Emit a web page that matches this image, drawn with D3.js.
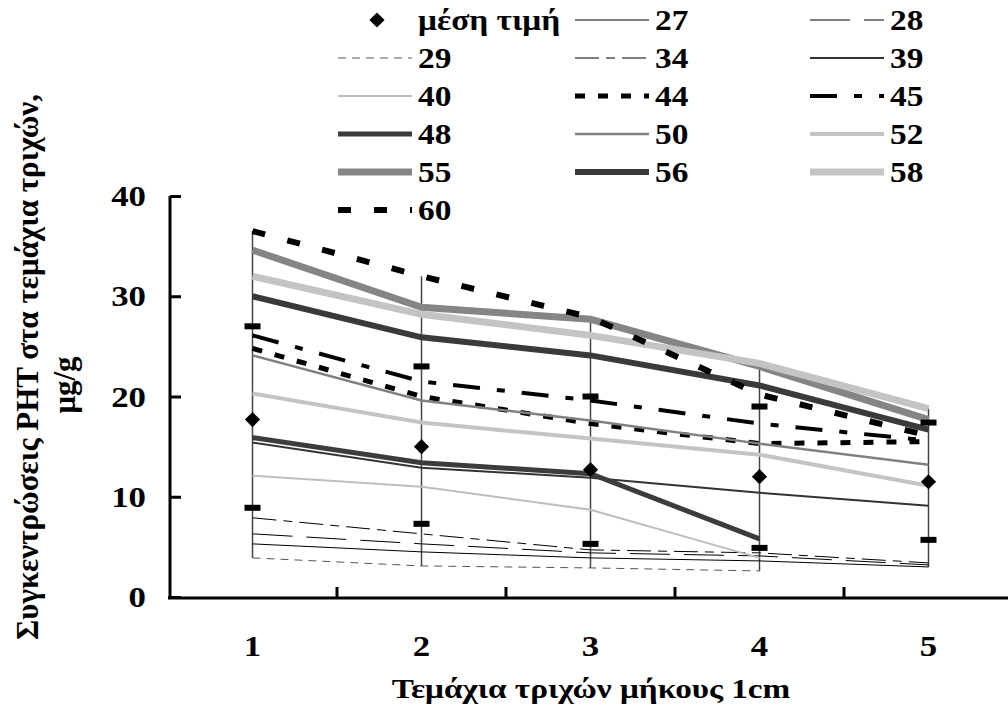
<!DOCTYPE html>
<html>
<head>
<meta charset="utf-8">
<script src="https://cdn.jsdelivr.net/npm/d3@7"></script>
<style>
  body { margin: 0; background: #fff; }
  svg { font-family: "Liberation Serif", "Times New Roman", serif; font-weight: bold; }
</style>
</head>
<body>
<svg id="chart" width="1008" height="707"></svg>
<script>
// Τεμάχια τριχών (1cm)
const categories = [1, 2, 3, 4, 5];
const yTicks = [0, 10, 20, 30, 40];

// μέση τιμή και μέση τιμή ± SD
const meanValues = [17.7, 15.0, 12.7, 12.0, 11.5];
const upperSD = [27.0, 23.0, 20.0, 19.0, 17.4];
const lowerSD = [8.9, 7.3, 5.3, 4.9, 5.7];

// συγκεντρώσεις ανά δείγμα (μg/g)
const s27 = [5.3, 4.5, 3.9, 3.6, 3.0];
const s28 = [6.3, 5.3, 4.4, 4.1, 3.2];
const s29 = [3.9, 3.1, 2.9, 2.6, null];
const s34 = [7.9, 6.3, 4.7, 4.4, 3.4];
const s39 = [15.4, 12.9, 11.9, 10.4, 9.1];
const s40 = [12.1, 11.0, 8.7, 3.9, null];
const s44 = [24.8, 20.0, 17.3, 15.3, 15.5];
const s45 = [26.1, 21.5, 19.6, 17.3, 15.6];
const s48 = [15.9, 13.4, 12.3, 5.8, null];
const s50 = [24.1, 19.6, 17.6, 15.3, 13.2];
const s52 = [20.3, 17.4, 15.8, 14.2, 11.1];
const s55 = [34.6, 28.9, 27.7, 23.0, 17.7];
const s56 = [30.0, 25.9, 24.1, 21.1, 16.7];
const s58 = [32.0, 28.2, 26.1, 23.3, 18.8];
const s60 = [36.5, 32.0, 27.9, 20.2, 16.1];

const series = [
  { name: "27", values: s27, color: "#000", width: 1, dash: null },
  { name: "28", values: s28, color: "#000", width: 1, dash: "40,14" },
  { name: "29", values: s29, color: "#555", width: 1, dash: "8,6" },
  { name: "34", values: s34, color: "#000", width: 1, dash: "24,7,9,7" },
  { name: "39", values: s39, color: "#333", width: 2, dash: null },
  { name: "40", values: s40, color: "#bdbdbd", width: 2, dash: null },
  { name: "44", values: s44, color: "#000", width: 5, dash: "10,13" },
  { name: "45", values: s45, color: "#000", width: 4, dash: "27,17,8,17" },
  { name: "48", values: s48, color: "#3c3c3c", width: 5, dash: null },
  { name: "50", values: s50, color: "#808080", width: 2.5, dash: null },
  { name: "52", values: s52, color: "#c4c4c4", width: 4, dash: null },
  { name: "55", values: s55, color: "#858585", width: 7, dash: null },
  { name: "56", values: s56, color: "#3a3a3a", width: 6, dash: null },
  { name: "58", values: s58, color: "#c4c4c4", width: 7, dash: null },
  { name: "60", values: s60, color: "#000", width: 6, dash: "13,23" },
];

const svg = d3.select("#chart");

// κείμενο με οριζόντια διάταση (όπως στο πρωτότυπο)
function label(g, px, py, str, size, anchor, k) {
  return g.append("text")
    .attr("transform", `translate(${px},${py}) scale(${k},1)`)
    .attr("text-anchor", anchor)
    .attr("font-size", size)
    .attr("fill", "#000")
    .text(str);
}

const x = d3.scaleBand().domain(categories).range([168, 1013]);
const y = d3.scaleLinear().domain([0, 40]).range([597, 196]);
const cx = (c) => x(c) + x.bandwidth() / 2;

// high-low γραμμές
const hiLo = categories.map((c, i) => {
  const vals = series.map((s) => s.values[i]).filter((v) => v != null);
  return { c, lo: d3.min(vals), hi: d3.max(vals) };
});
svg.append("g")
  .selectAll("line")
  .data(hiLo)
  .enter()
  .append("line")
  .attr("x1", (d) => cx(d.c))
  .attr("x2", (d) => cx(d.c))
  .attr("y1", (d) => y(d.lo))
  .attr("y2", (d) => y(d.hi))
  .attr("stroke", "#444")
  .attr("stroke-width", 1.5);

// γραμμές δειγμάτων
const line = d3
  .line()
  .defined((d) => d.v != null)
  .x((d) => cx(d.c))
  .y((d) => y(d.v));

series.forEach((s) => {
  svg.append("path")
    .datum(categories.map((c, i) => ({ c, v: s.values[i] })))
    .attr("fill", "none")
    .attr("stroke", s.color)
    .attr("stroke-width", s.width)
    .attr("stroke-dasharray", s.dash)
    .attr("d", line);
});

// ± SD
const sdMarks = categories.flatMap((c, i) => [
  { c, v: upperSD[i] },
  { c, v: lowerSD[i] },
]);
svg.append("g")
  .selectAll("rect")
  .data(sdMarks)
  .enter()
  .append("rect")
  .attr("x", (d) => cx(d.c) - 8)
  .attr("y", (d) => y(d.v) - 3)
  .attr("width", 16)
  .attr("height", 6)
  .attr("fill", "#000");

// μέση τιμή
const diamond = d3.symbol(d3.symbolSquare, 115);
svg.append("g")
  .selectAll("path")
  .data(categories.map((c, i) => ({ c, v: meanValues[i] })))
  .enter()
  .append("path")
  .attr("d", diamond)
  .attr("transform", (d) => `translate(${cx(d.c)},${y(d.v)}) rotate(45)`)
  .attr("fill", "#000");

// άξονας y
const yAxis = svg.append("g")
  .attr("transform", "translate(170,0)")
  .call(d3.axisLeft(y).tickValues(yTicks).tickSize(-11).tickFormat(""));
yAxis.select(".domain").attr("stroke-width", 3).attr("d", "M0,196V598");
yAxis.selectAll(".tick line").attr("stroke-width", 3);
const yLabels = svg.append("g");
yTicks.forEach((t) => label(yLabels, 146, y(t) + 10, t, 29, "end", 1.2));

// άξονας x
const xg = svg.append("g").attr("transform", "translate(0,598)");
xg.append("line")
  .attr("x1", 168).attr("x2", 1008)
  .attr("stroke", "#000").attr("stroke-width", 3);
xg.selectAll(".xtick")
  .data(categories.slice(1))
  .enter()
  .append("line")
  .attr("x1", (c) => x(c)).attr("x2", (c) => x(c))
  .attr("y1", 0).attr("y2", -11)
  .attr("stroke", "#000").attr("stroke-width", 3);
categories.forEach((c) => label(xg, cx(c), 58, c, 29, "middle", 1.2));

label(svg, 591, 698, "Τεμάχια τριχών μήκους 1cm", 27, "middle", 1.23);

svg.append("text")
  .attr("transform", "translate(38,367) rotate(-90)")
  .attr("text-anchor", "middle")
  .attr("font-size", 31)
  .text("Συγκεντρώσεις PHT στα τεμάχια τριχών,");
svg.append("text")
  .attr("transform", "translate(75,385) rotate(-90)")
  .attr("text-anchor", "middle")
  .attr("font-size", 31)
  .text("μg/g");

// υπόμνημα
const legendItems = [{ name: "μέση τιμή", mean: true }].concat(series);
const colX = [338, 575, 810];
const legend = svg.append("g");
legendItems.forEach((item, i) => {
  const col = i % 3;
  const row = Math.floor(i / 3);
  const gy = 20 + row * 38;
  const x0 = colX[col];
  if (item.mean) {
    legend.append("path")
      .attr("d", diamond)
      .attr("transform", `translate(${x0 + 39},${gy}) rotate(45)`)
      .attr("fill", "#000");
  } else {
    legend.append("line")
      .attr("x1", x0).attr("x2", x0 + 74)
      .attr("y1", gy).attr("y2", gy)
      .attr("stroke", item.color)
      .attr("stroke-width", item.width)
      .attr("stroke-dasharray", item.dash);
  }
  label(legend, x0 + 80, gy + 10, item.name, 29, "start", 1.15);
});
</script>
</body>
</html>
